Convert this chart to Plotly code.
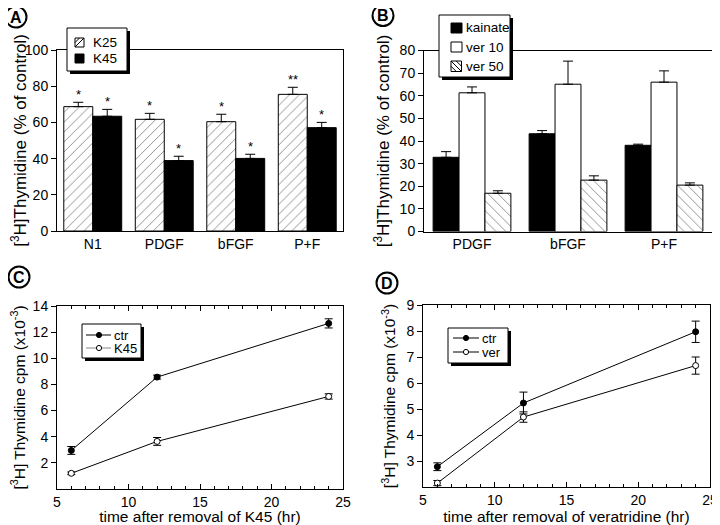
import plotly.graph_objects as go

# ---------------- data ----------------
# Panel A
a_cats = ["N1", "PDGF", "bFGF", "P+F"]
a_k25 = [68.7, 61.7, 60.4, 75.5]
a_k25_err = [2.4, 3.3, 4.1, 3.9]
a_k45 = [63.4, 38.9, 40.1, 57.1]
a_k45_err = [3.8, 2.4, 2.3, 2.9]
a_k25_sig = ["*", "*", "*", "**"]
a_k45_sig = ["*", "*", "*", "*"]

# Panel B
b_cats = ["PDGF", "bFGF", "P+F"]
b_kainate = [32.8, 43.2, 38.1]
b_kainate_err = [2.5, 1.4, 0.5]
b_ver10 = [61.3, 65.1, 66.0]
b_ver10_err = [2.6, 10.2, 5.0]
b_ver50 = [16.9, 22.7, 20.5]
b_ver50_err = [1.1, 1.9, 1.0]

# Panel C
c_time = [6, 12, 24]
c_ctr = [2.95, 8.56, 12.67]
c_ctr_err = [0.3, 0.15, 0.35]
c_k45 = [1.2, 3.64, 7.08]
c_k45_err = [0.1, 0.3, 0.2]

# Panel D
d_time = [6, 12, 24]
d_ctr = [2.78, 5.23, 7.97]
d_ctr_err = [0.15, 0.42, 0.41]
d_ver = [2.15, 4.69, 6.67]
d_ver_err = [0.1, 0.2, 0.33]

# page body has an 8px margin; figure fills the rest of the 720x525 window
OFF = 8
W, H = 720 - OFF, 525 - OFF
FONT = "Liberation Sans, Arial, Helvetica, sans-serif"

def sx(x):
    return (x - OFF) / W

def sy(y):
    return 1 - (y - OFF) / H

fig = go.Figure()

err_kw = dict(type="data", symmetric=False, color="black", thickness=1, width=5)

# ---- Panel A bars ----
fig.add_trace(go.Bar(
    x=a_cats, y=a_k25, name="K25", xaxis="x", yaxis="y", showlegend=False,
    marker=dict(color="white", line=dict(color="black", width=1),
                pattern=dict(shape="/", fgcolor="black", bgcolor="white", size=7, solidity=0.12)),
    error_y=dict(array=a_k25_err, arrayminus=[0] * 4, **err_kw),
    offsetgroup="a1"))
fig.add_trace(go.Bar(
    x=a_cats, y=a_k45, name="K45", xaxis="x", yaxis="y", showlegend=False,
    marker=dict(color="black", line=dict(color="black", width=1)),
    error_y=dict(array=a_k45_err, arrayminus=[0] * 4, **err_kw),
    offsetgroup="a2"))

# ---- Panel B bars ----
fig.add_trace(go.Bar(
    x=b_cats, y=b_kainate, name="kainate", xaxis="x2", yaxis="y2", showlegend=False,
    marker=dict(color="black", line=dict(color="black", width=1)),
    error_y=dict(array=b_kainate_err, arrayminus=[0] * 3, **err_kw),
    offsetgroup="b1"))
fig.add_trace(go.Bar(
    x=b_cats, y=b_ver10, name="ver 10", xaxis="x2", yaxis="y2", showlegend=False,
    marker=dict(color="white", line=dict(color="black", width=1)),
    error_y=dict(array=b_ver10_err, arrayminus=[0] * 3, **err_kw),
    offsetgroup="b2"))
fig.add_trace(go.Bar(
    x=b_cats, y=b_ver50, name="ver 50", xaxis="x2", yaxis="y2", showlegend=False,
    marker=dict(color="white", line=dict(color="black", width=1),
                pattern=dict(shape="\\", fgcolor="black", bgcolor="white", size=7, solidity=0.12)),
    error_y=dict(array=b_ver50_err, arrayminus=[0] * 3, **err_kw),
    offsetgroup="b3"))

# ---- Panel C / D lines ----
line_err = dict(type="data", color="black", thickness=1, width=4)

def line_trace(x, y, e, name, filled, xa, ya):
    return go.Scatter(
        x=x, y=y, name=name, xaxis=xa, yaxis=ya, showlegend=False,
        mode="lines+markers", line=dict(color="black", width=1),
        marker=dict(symbol="circle", size=6, color="black" if filled else "white",
                    line=dict(color="black", width=1)),
        error_y=dict(array=e, **line_err))

fig.add_trace(line_trace(c_time, c_ctr, c_ctr_err, "ctr", True, "x3", "y3"))
fig.add_trace(line_trace(c_time, c_k45, c_k45_err, "K45", False, "x3", "y3"))
fig.add_trace(line_trace(d_time, d_ctr, d_ctr_err, "ctr", True, "x4", "y4"))
fig.add_trace(line_trace(d_time, d_ver, d_ver_err, "ver", False, "x4", "y4"))

# ---------------- axes ----------------
tickfont = dict(family=FONT, size=14, color="black")

dom = {
    "A": ([sx(57), sx(343)], [sy(231), sy(50)]),
    "B": ([sx(424), sx(712)], [sy(231.5), sy(50.5)]),
    "C": ([sx(57), sx(343)], [sy(489), sy(306)]),
    "D": ([sx(423), sx(710)], [sy(487), sy(305)]),
}

bar_x = dict(showline=True, linecolor="black", linewidth=1, mirror=True, ticks="",
             tickfont=tickfont, showgrid=False, zeroline=False, automargin=False)
bar_y_common = dict(showline=True, linecolor="black", linewidth=1, mirror=True,
                    ticks="outside", ticklen=5, tickcolor="black", tickfont=tickfont,
                    showgrid=False, zeroline=False,
                    title_font=dict(family=FONT, size=17, color="black"), title_standoff=5,
                    automargin=False)

fig.update_layout(
    xaxis=dict(domain=dom["A"][0], anchor="y", range=[-0.5, 3.5], **bar_x),
    yaxis=dict(domain=dom["A"][1], anchor="x", range=[0, 100], tickvals=[0, 20, 40, 60, 80, 100],
               title_text="[<sup>3</sup>H]Thymidine (% of control)", **bar_y_common),
    xaxis2=dict(domain=dom["B"][0], anchor="y2", range=[-0.5, 2.5], **bar_x),
    yaxis2=dict(domain=dom["B"][1], anchor="x2", range=[0, 80], tickvals=list(range(0, 81, 10)),
                title_text="[<sup>3</sup>H]Thymidine (% of control)", **bar_y_common),
)

line_title_font = dict(family=FONT, size=15.5, color="black")
line_x = dict(showline=True, linecolor="black", linewidth=1, mirror="allticks", ticks="inside",
              ticklen=5, tickcolor="black", tickfont=tickfont, showgrid=False, zeroline=False,
              range=[5, 25], tickvals=[5, 10, 15, 20, 25], title_font=line_title_font,
              title_standoff=1, automargin=False,
              minor=dict(dtick=1, tick0=5, ticks="inside", ticklen=3, tickcolor="black", showgrid=False))
line_y = dict(showline=True, linecolor="black", linewidth=1, mirror=True, ticks="outside",
              ticklen=5, tickcolor="black", tickfont=tickfont, showgrid=False, zeroline=False,
              title_font=line_title_font, title_standoff=6, automargin=False)

fig.update_layout(
    xaxis3=dict(domain=dom["C"][0], anchor="y3", title_text="time after removal of K45 (hr)", **line_x),
    yaxis3=dict(domain=dom["C"][1], anchor="x3", range=[0, 14], tickvals=[2, 4, 6, 8, 10, 12, 14],
                title_text="[<sup>3</sup>H] Thymidine cpm (x10<sup>-3</sup>)", **line_y),
    xaxis4=dict(domain=dom["D"][0], anchor="y4", title_text="time after removal of veratridine (hr)", **line_x),
    yaxis4=dict(domain=dom["D"][1], anchor="x4", range=[2, 9], tickvals=[3, 4, 5, 6, 7, 8, 9],
                title_text="[<sup>3</sup>H] Thymidine cpm (x10<sup>-3</sup>)", **line_y),
)

# ---------------- hand-drawn legends (boxes with drop shadow) ----------------
shapes = []
annotations = []

def rect(x0, y0, x1, y1, fill, line_w=1, line_c="black"):
    shapes.append(dict(type="rect", xref="paper", yref="paper", layer="above",
                       x0=sx(x0), x1=sx(x1), y0=sy(y1), y1=sy(y0), fillcolor=fill,
                       line=dict(color=line_c, width=line_w)))

def seg(x0, y0, x1, y1, color="black", w=1):
    shapes.append(dict(type="line", xref="paper", yref="paper", layer="above",
                       x0=sx(x0), x1=sx(x1), y0=sy(y0), y1=sy(y1), line=dict(color=color, width=w)))

def dot(cx, cy, r, fill):
    shapes.append(dict(type="circle", xref="paper", yref="paper", layer="above",
                       x0=sx(cx - r), x1=sx(cx + r), y0=sy(cy + r), y1=sy(cy - r),
                       fillcolor=fill, line=dict(color="black", width=1)))

def label(text, x, y, size=13.5):
    annotations.append(dict(text=text, x=sx(x), y=sy(y), xref="paper", yref="paper",
                            showarrow=False, xanchor="left", yanchor="middle", borderpad=0,
                            font=dict(family=FONT, size=size, color="black")))

def legend_box(x0, y0, x1, y1):
    rect(x0 + 3, y0 + 3, x1 + 3, y1 + 3, "black", line_w=0)
    rect(x0, y0, x1, y1, "white")

def hatch_fwd(x0, y0, s):
    rect(x0, y0, x0 + s, y0 + s, "white")
    seg(x0, y0 + s, x0 + s, y0)
    seg(x0, y0 + s / 2, x0 + s / 2, y0)

def hatch_back(x0, y0, s):
    rect(x0, y0, x0 + s, y0 + s, "white")
    seg(x0, y0, x0 + s, y0 + s)
    seg(x0, y0 + s / 2, x0 + s / 2, y0 + s)
    seg(x0 + s / 2, y0, x0 + s, y0 + s / 2)

# Legend A
legend_box(67, 28, 127, 71)
hatch_fwd(75, 38, 9)
rect(75, 54, 84, 63, "black")
label("K25", 92, 42.5)
label("K45", 92, 58.5)

# Legend B
legend_box(439, 15, 510, 77)
rect(451, 23, 462, 33, "black")
rect(451, 42, 462, 52, "white")
hatch_back(451, 61, 10.5)
label("kainate", 465, 28)
label("ver 10", 465, 47)
label("ver 50", 465, 66)

# Legend C
legend_box(82, 324, 141, 358)
seg(86, 335, 111, 335)
dot(99, 335, 2.6, "black")
seg(86, 348, 111, 348, color="#888888")
dot(99, 348, 2.6, "white")
label("ctr", 113, 335, 13)
label("K45", 113, 348, 13)

# Legend D
legend_box(448, 328, 508, 363)
seg(453, 338, 479, 338)
dot(466, 338, 2.6, "black")
seg(453, 352, 479, 352)
dot(466, 352, 2.6, "white")
label("ctr", 481, 338, 13)
label("ver", 481, 352, 13)

# circled panel letters
letters = [("A", 16, 17), ("B", 383, 15.5), ("C", 19, 277), ("D", 387, 283)]
for (t, cx, cy) in letters:
    r = 10.5
    shapes.append(dict(type="circle", xref="paper", yref="paper",
                       x0=sx(cx - r), x1=sx(cx + r), y0=sy(cy + r), y1=sy(cy - r),
                       line=dict(color="black", width=2), fillcolor="rgba(0,0,0,0)"))
    annotations.append(dict(text="<b>%s</b>" % t, x=sx(cx), y=sy(cy), xref="paper", yref="paper",
                            showarrow=False, font=dict(family=FONT, size=16, color="black"),
                            xanchor="center", yanchor="middle"))

# significance stars panel A
bar_px = (343 - 57) / 4 * (1 - 0.19) / 2
for cat, v, e, s in zip(a_cats, a_k25, a_k25_err, a_k25_sig):
    annotations.append(dict(text=s, x=cat, y=v + e, xref="x", yref="y", showarrow=False,
                            xshift=-bar_px / 2, yanchor="bottom", yshift=-2,
                            font=dict(family=FONT, size=13, color="black")))
for cat, v, e, s in zip(a_cats, a_k45, a_k45_err, a_k45_sig):
    annotations.append(dict(text=s, x=cat, y=v + e, xref="x", yref="y", showarrow=False,
                            xshift=bar_px / 2, yanchor="bottom", yshift=-2,
                            font=dict(family=FONT, size=13, color="black")))

fig.update_layout(
    width=W, height=H, margin=dict(l=0, r=0, t=0, b=0, autoexpand=False),
    paper_bgcolor="white", plot_bgcolor="white",
    barmode="group", bargap=0.19, bargroupgap=0,
    shapes=shapes, annotations=annotations,
    font=dict(family=FONT, color="black"),
)

fig.write_html("out.html")
